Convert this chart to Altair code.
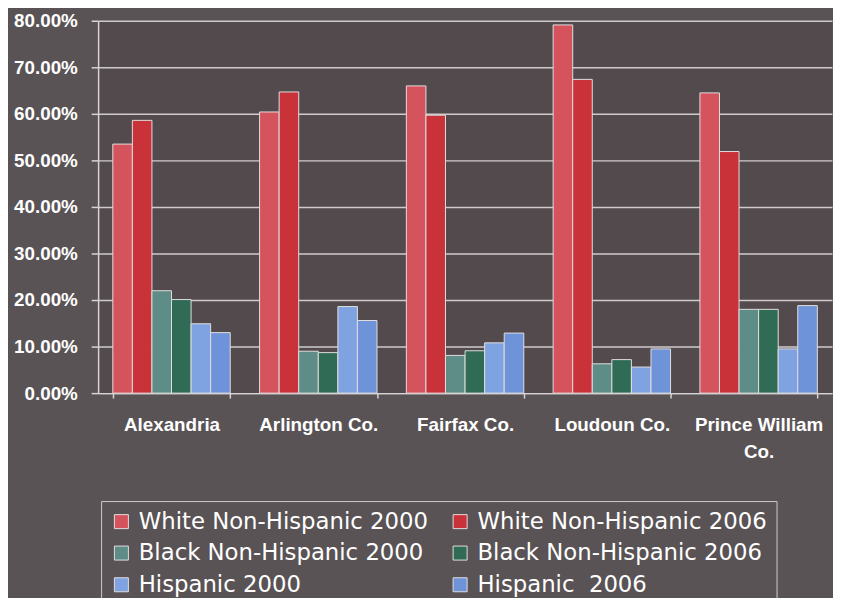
import altair as alt
import pandas as pd

counties = ["Alexandria", "Arlington Co.", "Fairfax Co.", "Loudoun Co.", "Prince William Co."]
series = ["White Non-Hispanic 2000", "White Non-Hispanic 2006",
          "Black Non-Hispanic 2000", "Black Non-Hispanic 2006",
          "Hispanic 2000", "Hispanic  2006"]
colors = ["#d4535d", "#c93238", "#5e8c86", "#2f6b55", "#7fa3e0", "#6e93d8"]
# legend is laid out column by column, so list it column-wise
legend_order = [series[0], series[2], series[4], series[1], series[3], series[5]]
legend_colors = [colors[0], colors[2], colors[4], colors[1], colors[3], colors[5]]

white_2000 = [53.5, 60.4, 66.0, 79.1, 64.5]
white_2006 = [58.6, 64.7, 59.7, 67.4, 51.9]
black_2000 = [22.0, 9.0, 8.1, 6.3, 18.0]
black_2006 = [20.1, 8.7, 9.1, 7.2, 18.0]
hisp_2000 = [14.9, 18.6, 10.8, 5.6, 9.5]
hisp_2006 = [13.0, 15.6, 12.9, 9.5, 18.8]
y_ticks = [0, 10, 20, 30, 40, 50, 60, 70, 80]

all_vals = [white_2000, white_2006, black_2000, black_2006, hisp_2000, hisp_2006]
rows = []
for s, vals in zip(series, all_vals):
    for c, v in zip(counties, vals):
        rows.append({"county": c, "series": s, "value": v})
df = pd.DataFrame(rows)

bars = alt.Chart(df).mark_bar(stroke="#e2dedf", strokeWidth=1).encode(
    x=alt.X("county:N", sort=counties, title=None,
            scale=alt.Scale(paddingInner=0.2, paddingOuter=0.1),
            axis=alt.Axis(labelAngle=0, tickBand="extent", grid=False,
                          labelFont="Liberation Sans", labelFontWeight="bold",
                          labelFontSize=19, labelColor="#ffffff",
                          labelPadding=18, tickSize=5, labelLineHeight=27,
                          labelBaseline="top",
                          labelExpr="datum.value == 'Prince William Co.' ? ['Prince William', 'Co.'] : datum.value",
                          domainColor="#d8d4d5", domainWidth=1.5,
                          tickColor="#d8d4d5", tickWidth=1.5)),
    xOffset=alt.XOffset("series:N", sort=series,
                        scale=alt.Scale(paddingInner=0, paddingOuter=0)),
    y=alt.Y("value:Q", title=None,
            scale=alt.Scale(domain=[0, 80], nice=False),
            axis=alt.Axis(values=y_ticks,
                          labelExpr="format(datum.value, '.2f') + '%'",
                          labelFont="Liberation Sans", labelFontWeight="bold",
                          labelFontSize=19, labelColor="#ffffff",
                          labelPadding=14, tickSize=7,
                          tickColor="#d8d4d5", tickWidth=1.5,
                          domainColor="#d8d4d5", domainWidth=1.5,
                          gridColor="#cfcbcc", gridWidth=1.5)),
    color=alt.Color("series:N", sort=legend_order, title=None,
                    scale=alt.Scale(domain=legend_order, range=legend_colors),
                    legend=alt.Legend(orient="none", legendX=3, legendY=485,
                                      columns=2, columnPadding=20, rowPadding=8,
                                      padding=9, strokeColor="#d0cccd",
                                      symbolType="square", symbolSize=200,
                                      symbolStrokeColor="#e2dedf", symbolStrokeWidth=1,
                                      symbolOpacity=1,
                                      labelExpr="replace(datum.label, '  ', ' \u00a0')",
                                      labelFont="DejaVu Sans", labelFontSize=23,
                                      labelColor="#ffffff", labelOffset=6,
                                      labelLimit=400)),
)

chart = bars.properties(
    width=741, height=376,
    background="#595355",
    autosize=alt.AutoSizeParams(type="none"),
    padding={"left": 91, "top": 10, "right": 1, "bottom": 204},
).configure_view(stroke=None, fill="#524a4d")

chart.save("out.html", embed_options={"renderer": "svg", "actions": False})
